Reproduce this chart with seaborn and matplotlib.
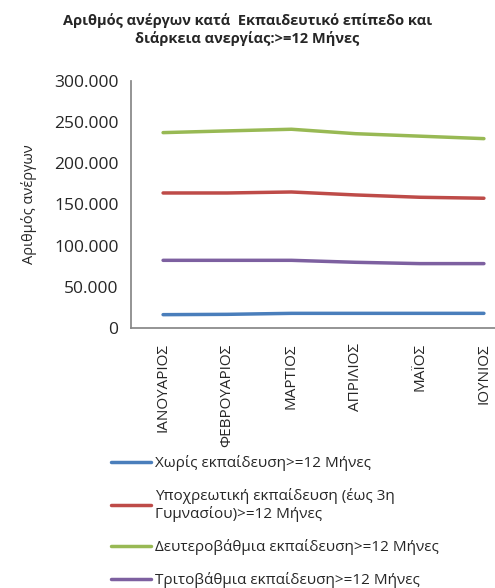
import numpy as np
import pandas as pd
import matplotlib
matplotlib.use("Agg")
import matplotlib.pyplot as plt
import matplotlib.ticker as mticker
import seaborn as sns

# Data
months = ["ΙΑΝΟΥΑΡΙΟΣ", "ΦΕΒΡΟΥΑΡΙΟΣ", "ΜΑΡΤΙΟΣ", "ΑΠΡΙΛΙΟΣ", "ΜΑΪΟΣ", "ΙΟΥΝΙΟΣ"]
series_names = [
    "Χωρίς εκπαίδευση>=12 Μήνες",
    "Υποχρεωτική εκπαίδευση (έως 3η\nΓυμνασίου)>=12 Μήνες",
    "Δευτεροβάθμια εκπαίδευση>=12 Μήνες",
    "Τριτοβάθμια εκπαίδευση>=12 Μήνες",
]
no_edu = [16200, 16600, 17800, 17800, 17800, 17800]
compulsory = [164000, 164000, 165200, 161600, 158800, 157600]
secondary = [237300, 239400, 241400, 236000, 233000, 230000]
tertiary = [82200, 82200, 82200, 79800, 78200, 78200]
colors = ["#4A7EBB", "#BE4B48", "#98B954", "#7D60A0"]

df = pd.DataFrame({
    "month": months * 4,
    "x": list(range(len(months))) * 4,
    "value": no_edu + compulsory + secondary + tertiary,
    "series": sum([[s] * len(months) for s in series_names], []),
})

sns.set_theme(style="white")
plt.rcParams["font.family"] = ["Open Sans", "DejaVu Sans"]

fig = plt.figure(figsize=(4.95, 5.88), dpi=100)
ax = fig.add_axes([131 / 495, 1 - 328 / 588, 385 / 495, 247 / 588])

sns.lineplot(data=df, x="x", y="value", hue="series", hue_order=series_names,
             palette=colors, linewidth=2.5, ax=ax, legend=True)

ax.set_xlim(-0.5, 5.5)
ax.set_ylim(0, 300000)
ax.yaxis.set_major_locator(mticker.MultipleLocator(50000))
ax.yaxis.set_major_formatter(mticker.FuncFormatter(
    lambda v, p: f"{int(v):,}".replace(",", ".")))
ax.set_xticks(range(len(months)))
ax.set_xticklabels(months, rotation=90, fontsize=11)
ax.set_xticks(np.arange(-0.5, 6, 1), minor=True)
ax.tick_params(axis="x", which="major", length=0, pad=11)
ax.tick_params(axis="x", which="minor", length=5, color="#868686", direction="out")
ax.tick_params(axis="y", length=5, color="#868686", direction="out", labelsize=12.5, pad=4)
for s in ["top", "right"]:
    ax.spines[s].set_visible(False)
for s in ["left", "bottom"]:
    ax.spines[s].set_color("#868686")
ax.set_xlabel("")
ax.set_ylabel("Αριθμός ανέργων", fontsize=10.5, labelpad=12)

fig.suptitle("Αριθμός ανέργων κατά  Εκπαιδευτικό επίπεδο και\nδιάρκεια ανεργίας:>=12 Μήνες",
             x=0.5, y=0.977, fontsize=10.5, fontweight="bold", linespacing=1.25)

leg = ax.legend(loc="upper left", bbox_to_anchor=(-26 / 385, -0.49), frameon=False,
                fontsize=11, handlelength=2.6, handletextpad=0.3, labelspacing=1.1,
                borderaxespad=0)

fig.savefig("out.png", dpi=100)
